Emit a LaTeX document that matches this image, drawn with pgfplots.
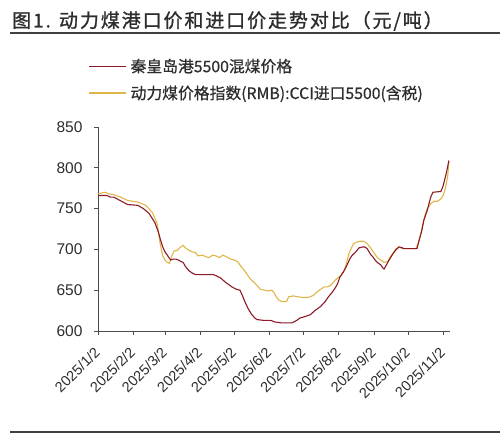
\documentclass[border=0pt]{standalone}
\usepackage{fontspec}
\setmainfont{Liberation Sans}
\newfontfamily\cjk{Noto Sans CJK SC}[FakeBold=0.6]
\newfontfamily\cjkt{Noto Sans CJK SC}[FakeBold=1.2, LetterSpace=10]
\usepackage{pgfplots}
\pgfplotsset{compat=1.18}
\definecolor{redl}{RGB}{140,26,40}
\definecolor{yell}{RGB}{222,182,72}
\definecolor{txt}{RGB}{45,45,45}
\begin{document}
\begin{tikzpicture}
\useasboundingbox (0,0) rectangle (500bp,435bp);
\node[anchor=west, font=\cjkt\fontsize{19bp}{22bp}\selectfont, text=txt, inner sep=0pt] at (12bp,414bp) {图1. 动力煤港口价和进口价走势对比（元/吨）};
\draw[line width=1.2bp, black!75] (10bp,402bp) -- (500bp,402bp);
\draw[line width=1.2bp, black!75] (10bp,3bp) -- (500bp,3bp);
\begin{axis}[
  scale only axis, width=352bp, height=204bp,
  at={(98bp,104bp)}, anchor=south west,
  xmin=0, xmax=310, ymin=600, ymax=850,
  axis lines*=left,
  axis line style={black!70, line width=1bp},
  tick align=outside, major tick length=4bp,
  tick style={black!70, line width=0.8bp},
  xtick={0,31,59,90,120,151,181,212,243,273,304},
  xticklabels={2025/1/2,2025/2/2,2025/3/2,2025/4/2,2025/5/2,2025/6/2,2025/7/2,2025/8/2,2025/9/2,2025/10/2,2025/11/2},
  ytick={600,650,700,750,800,850},
  /pgf/number format/assume math mode=true,
  xticklabel style={rotate=45, anchor=east, font=\fontsize{14.5bp}{16bp}\selectfont, text=txt, inner sep=1bp},
  xticklabel shift=14bp,
  yticklabel style={font=\fontsize{15.5bp}{17bp}\selectfont, text=txt, xshift=-8bp},
  legend style={at={(-0.028,1.34)}, anchor=north west, draw=none, fill=none,
    font=\cjk\fontsize{15.8bp}{17bp}\selectfont, text=txt, row sep=10bp, inner sep=0pt,
    nodes={inner sep=1bp},
    /tikz/every even column/.append style={column sep=0bp}},
  legend cell align=left,
  legend image code/.code={\draw[#1, line width=1.3bp] (0bp,0bp) -- (37bp,0bp);},
]
\addlegendimage{redl}
\addlegendentry{\hspace{3bp}秦皇岛港5500混煤价格}
\addlegendimage{yell}
\addlegendentry{\hspace{3bp}动力煤价格指数(RMB):CCI进口5500(含税)}
\addplot[yell, line width=1.1bp, forget plot] coordinates {
(0,768) (6,770) (10,768) (14,767) (20,764) (26,760) (35,758) (42,754) (48,745) (52,732) (55,705) (57,692) (59,687) (61,684) (63,683) (65,692) (67,698) (70,699) (72,702) (75,705) (77,702) (80,699) (83,697) (86,696) (88,692) (92,693) (95,691) (98,690) (101,693) (104,692) (107,690) (110,693) (113,691) (117,688) (120,687) (123,685) (126,679) (129,674) (132,668) (134,664) (137,660) (140,656) (143,651) (147,650) (150,649) (153,650) (155,647) (157,642) (159,638) (162,636) (166,636) (168,642) (172,643) (176,642) (180,641) (184,641) (187,642) (190,644) (193,648) (196,651) (199,654) (202,654) (205,656) (208,661) (211,665) (214,668) (217,675) (219,684) (221,695) (223,701) (225,707) (228,709) (231,710) (234,710) (237,707) (240,702) (243,696) (246,690) (249,687) (252,684) (255,685) (257,690) (259,694) (262,700) (265,703) (268,701) (275,701) (280,701) (282,708) (284,718) (286,730) (288,742) (290,750) (293,756) (296,759) (299,759) (302,762) (304,766) (306,775) (308,790) (309,808)
};
\addplot[redl, line width=1.1bp, forget plot] coordinates {
(0,766) (8,766) (11,764) (14,764) (18,761) (22,758) (26,755) (35,754) (40,750) (45,744) (50,733) (53,722) (55,712) (57,703) (59,697) (61,693) (64,687) (66,688) (69,688) (72,686) (75,684) (77,679) (80,674) (83,671) (86,669) (90,669) (95,669) (102,669) (105,667) (108,665) (112,660) (116,656) (118,654) (122,651) (125,650) (127,644) (129,637) (132,628) (135,621) (138,616) (140,614) (146,613) (152,613) (156,611) (161,610) (166,610) (171,610) (175,613) (178,616) (183,618) (187,620) (191,625) (196,630) (200,636) (203,642) (206,647) (209,653) (211,658) (213,666) (216,672) (218,677) (220,683) (222,689) (224,693) (227,697) (230,702) (233,703) (235,703) (237,701) (240,694) (242,691) (244,687) (246,684) (249,681) (251,677) (252,676) (254,681) (256,686) (259,693) (262,699) (265,703) (268,702) (269,701) (275,701) (281,701) (283,712) (285,722) (287,736) (290,748) (293,764) (295,770) (302,771) (304,778) (307,795) (309,809)
};
\end{axis}
\end{tikzpicture}
\end{document}
